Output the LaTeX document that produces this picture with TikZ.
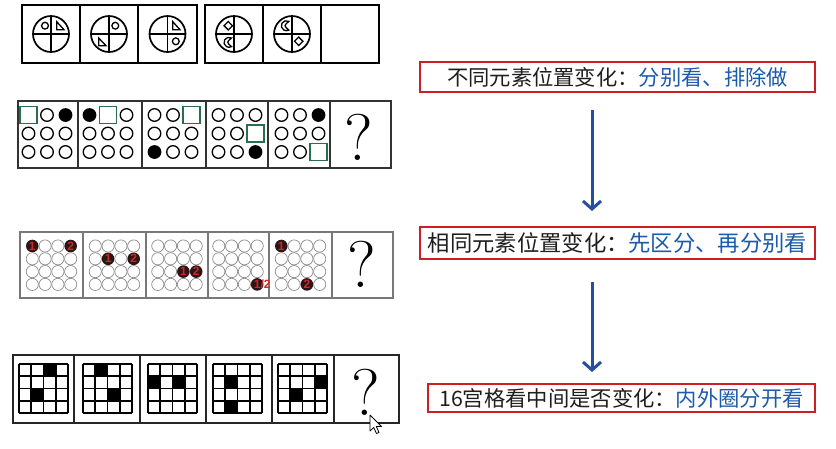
\documentclass[tikz,border=0pt]{standalone}
\usepackage{fontspec}
\newfontfamily\cjk{Noto Sans CJK SC}
\newfontfamily\numfont{Liberation Sans}
\usetikzlibrary{arrows.meta}
\definecolor{boxred}{RGB}{204,30,36}
\definecolor{txtblue}{RGB}{28,90,170}
\definecolor{txtblack}{RGB}{30,30,30}
\definecolor{arrblue}{RGB}{38,78,160}
\definecolor{sqgreen}{RGB}{40,110,80}
\definecolor{numred}{RGB}{205,40,40}
\definecolor{dotdark}{RGB}{45,20,22}
\definecolor{cellgray}{RGB}{120,120,120}
\definecolor{ballgray}{RGB}{140,140,140}
\tikzset{
  frame1/.style={draw=black,line width=1.8},
  frame2/.style={draw=black!80,line width=2},
  frame3/.style={draw=cellgray,line width=1.3},
  frame4/.style={draw=black!85,line width=2},
  bigc/.style={draw=black,line width=1.7},
  smallshape/.style={draw=black,line width=1.3},
  ring/.style={draw=black,line width=1.3},
  greensq/.style={draw=sqgreen,line width=1.6,fill=white},
  graycirc/.style={draw=ballgray,line width=0.7},
  numtxt/.style={text=numred,font=\numfont\bfseries\fontsize{12}{12}\selectfont,inner sep=0pt},
  gl/.style={draw=black,line width=1.6},
  qmark/.style={inner sep=0pt,font=\fontsize{66}{66}\selectfont},
  rbox/.style={draw=boxred,line width=2.5,inner sep=0pt,text=txtblack},
  barrow/.style={draw=arrblue,line width=3,-{Straight Barb[length=8pt,width=18pt]}}
}
% row 2: 3x3 cell; codes 0 circle, 1 filled, 2 green square
\newcommand\dotcell[2]{%
  \foreach \t [count=\k from 0] in {#2} {%
    \pgfmathtruncatemacro\cc{mod(\k,3)}%
    \pgfmathtruncatemacro\rr{\k/3}%
    \ifcase\t
      \draw[ring] ({#1+(\cc-1)*18.5},{115+\rr*18.5}) circle[radius=6.3];
    \or
      \fill[black] ({#1+(\cc-1)*18.5},{115+\rr*18.5}) circle[radius=6.9];
    \or
      \draw[greensq] ({#1+(\cc-1)*18.5-8.5},{115+\rr*18.5-8.5}) rectangle ++(17,17);
    \fi}}
% row 3: 4x4 balls; codes 0 empty, 1 / 2 numbered, 3 "1/2"
\newcommand\ballcell[3]{%
  \foreach \t [count=\k from 0] in {#3} {%
    \pgfmathtruncatemacro\cc{mod(\k,4)}%
    \pgfmathtruncatemacro\rr{\k/4}%
    \pgfmathsetmacro\bx{#1+(\cc-1.5)*12.8}%
    \pgfmathsetmacro\by{265.2+(\rr-1.5)*12.8}%
    \ifcase\t
      \draw[graycirc] (\bx,\by) circle[radius=6.1];
    \or
      \fill[dotdark] (\bx,\by) circle[radius=6.3];
      \node[numtxt] (b#2-\k) at (\bx,\by) {1};
    \or
      \fill[dotdark] (\bx,\by) circle[radius=6.3];
      \node[numtxt] (b#2-\k) at (\bx,\by) {2};
    \or
      \fill[dotdark] (\bx,\by) circle[radius=6.3];
      \node[numtxt,anchor=west] (b#2-\k) at (\bx-3.5,\by) {1/2};
    \fi}}
% row 4: 4x4 grid with black squares
\newcommand\gridcell[2]{%
  \foreach \r/\c in {#2}
    \fill[black] ({#1-24.5+\c*12.25},{364+\r*12.25}) rectangle ++(12.25,12.25);
  \foreach \i in {0,...,4} {%
    \draw[gl] ({#1-24.5+\i*12.25},364) -- ++(0,49);
    \draw[gl] ({#1-24.5},{364+\i*12.25}) -- ++(49,0);}}
\newcommand\crescent{%
  \draw[smallshape] (2.5,-4.33) arc[start angle=-60,end angle=-300,radius=5]
     .. controls (-2.5,0) .. (2.5,-4.33) -- cycle;}
\newcommand\diam{\draw[smallshape] (0,-4.2) -- (4.2,0) -- (0,4.2) -- (-4.2,0) -- cycle;}

\begin{document}
\begin{tikzpicture}[x=1pt,y=-1pt]
\useasboundingbox (0,0) rectangle (836,448);
\fill[white] (0,0) rectangle (836,448);

% ---------- row 1 ----------
\foreach \a/\b in {22/80,80/138,138/197,205/263,263/321,321/379}
  \draw[frame1] (\a,5) rectangle (\b,63);
\foreach \x in {51,109,167.5,234,292} {
  \draw[bigc] (\x,34) circle[radius=18];
  \draw[bigc] (\x-18,34) -- (\x+18,34);
  \draw[bigc] (\x,16) -- (\x,52);}
\begin{scope}[shift={(51,34)}]
  \draw[smallshape] (-6,-8.3) circle[radius=3.4];
  \draw[smallshape] (5.7,-12.3) -- (5.7,-4.3) -- (13,-4.3) -- cycle;
\end{scope}
\begin{scope}[shift={(109,34)}]
  \draw[smallshape] (6.3,-8.3) circle[radius=3.4];
  \draw[smallshape] (-10.3,4) -- (-10.3,11.7) -- (-3,11.7) -- cycle;
\end{scope}
\begin{scope}[shift={(167.5,34)}]
  \draw[smallshape] (5.3,-12.3) -- (5.3,-4.3) -- (12.5,-4.3) -- cycle;
  \draw[smallshape] (8.3,7.3) circle[radius=3.4];
\end{scope}
\begin{scope}[shift={(228.3,25.7)}]\diam\end{scope}
\begin{scope}[shift={(229,42.3)}]\crescent\end{scope}
\begin{scope}[shift={(286.3,25.7)}]\crescent\end{scope}
\begin{scope}[shift={(298.7,41.3)}]\diam\end{scope}

% ---------- row 2 ----------
\draw[frame2] (18,101) rectangle (391,168);
\foreach \x in {78,142,206,268,330} \draw[frame2] (\x,101) -- (\x,168);
\dotcell{47}{2,0,1,0,0,0,0,0,0}
\dotcell{108}{1,2,0,0,0,0,0,0,0}
\dotcell{173}{0,0,2,0,0,0,1,0,0}
\dotcell{237}{0,0,0,0,0,2,0,0,1}
\dotcell{300}{0,0,1,0,0,0,0,0,2}
\node[qmark] (q2) at (359,137) {?};

% ---------- row 3 ----------
\draw[frame3] (20,232) rectangle (393,298);
\foreach \x in {83,146,208,269,332} \draw[frame3] (\x,232) -- (\x,298);
\ballcell{51.5}{a}{1,0,0,2,0,0,0,0,0,0,0,0,0,0,0,0}
\ballcell{114.5}{b}{0,0,0,0,0,1,0,2,0,0,0,0,0,0,0,0}
\ballcell{177}{c}{0,0,0,0,0,0,0,0,0,0,1,2,0,0,0,0}
\ballcell{238}{d}{0,0,0,0,0,0,0,0,0,0,0,0,0,0,0,3}
\ballcell{300.5}{e}{1,0,0,0,0,0,0,0,0,0,0,0,0,0,2,0}
\node[qmark] (q3) at (362,264) {?};

% ---------- row 4 ----------
\draw[frame4] (13,355) rectangle (399,423);
\foreach \x in {74,140,206,272,334} \draw[frame4] (\x,355) -- (\x,423);
\gridcell{43.5}{0/2,2/1}
\gridcell{107.5}{0/1,2/2}
\gridcell{172.5}{1/0,1/2}
\gridcell{237.5}{1/1,3/1}
\gridcell{302.5}{1/3,2/1}
\node[qmark] (q4) at (366,392) {?};
\draw[fill=white,line width=0.8,line join=round]
  (370,415) -- (370,431) -- (373.7,427.5) -- (376.5,433.5) -- (379,432.5)
  -- (376.3,426.5) -- (381.5,426.5) -- cycle;

% ---------- right column ----------
\node[rbox,minimum width=395,minimum height=30,font={\cjk\fontsize{21.3}{24}\selectfont}]
  (t1) at (617.5,77) {不同元素位置变化：\textcolor{txtblue}{分别看、排除做}};
\node[rbox,minimum width=395,minimum height=32,font={\cjk\fontsize{22.3}{25}\selectfont}]
  (t2) at (617.5,243) {相同元素位置变化：\textcolor{txtblue}{先区分、再分别看}};
\node[rbox,minimum width=387,minimum height=28,font={\cjk\fontsize{21.3}{24}\selectfont}]
  (t3) at (621.5,398) {16宫格看中间是否变化：\textcolor{txtblue}{内外圈分开看}};
\coordinate (a1s) at (592,110);
\coordinate (a1e) at (592,211);
\coordinate (a2s) at (592,282);
\coordinate (a2e) at (592,372);
\draw[barrow] (a1s) -- (a1e);
\draw[barrow] (a2s) -- (a2e);
\end{tikzpicture}
\end{document}
